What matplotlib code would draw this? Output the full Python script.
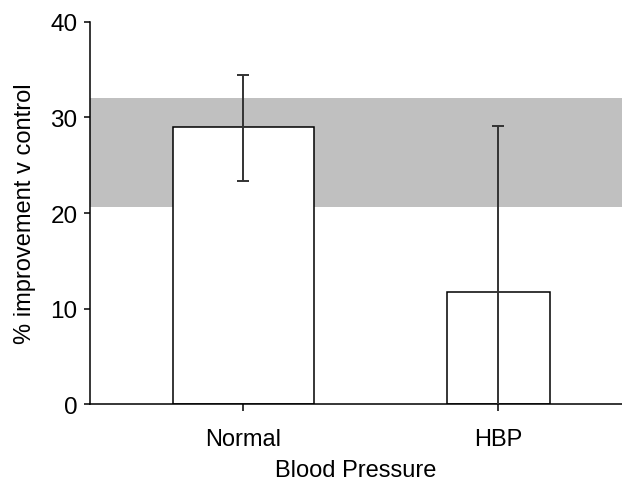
import matplotlib
matplotlib.use('Agg')
from matplotlib import pyplot as plt

categories = ['Normal', 'HBP']
values = [29.0, 11.7]
err_low = [5.6, 17.4]
err_high = [5.5, 17.4]
widths = [0.553, 0.404]
band = (20.6, 32.0)
yticks = [0, 10, 20, 30, 40]

plt.rcParams['font.family'] = ['Liberation Sans', 'DejaVu Sans']

fig = plt.figure(figsize=(6.22, 4.85), dpi=100)
ax = fig.add_axes([0.1447, 0.1649, 0.8553, 0.7877])

x = list(range(len(categories)))
ax.axhspan(band[0], band[1], color='#c0c0c0', lw=0, zorder=0)
ax.bar(x, values, width=widths, color='white', edgecolor='black', linewidth=1.1, zorder=2)
ax.errorbar(x, values, yerr=[err_low, err_high], fmt='none', ecolor='#333333',
            elinewidth=1.4, capsize=4.5, capthick=1.4, zorder=3)

ax.set_xlim(-0.6, 1.486)
ax.set_ylim(0, 40)
ax.set_yticks(yticks)
ax.set_xticks(x)
ax.set_xticklabels(categories)
ax.spines['top'].set_visible(False)
ax.spines['right'].set_visible(False)
ax.spines['left'].set_linewidth(1.1)
ax.spines['bottom'].set_linewidth(1.1)
ax.tick_params(axis='y', length=4, width=1.1, labelsize=17.5, pad=5)
ax.tick_params(axis='x', length=5, width=1.1, labelsize=17, pad=12)
ax.set_ylabel('% improvement v control', fontsize=17, labelpad=10)
ax.set_xlabel('Blood Pressure', fontsize=17, labelpad=7)

plt.savefig('out.png', dpi=100)
